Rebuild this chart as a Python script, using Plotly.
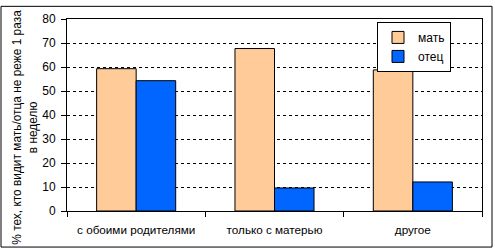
import plotly.graph_objects as go

categories = ["с обоими родителями", "только с матерью", "другое"]
mother = [59.3, 67.7, 58.8]
father = [54.3, 9.6, 12.1]
y_ticks = [0, 10, 20, 30, 40, 50, 60, 70, 80]

W, H = 495, 250
L, R, T, B = 67, 13, 14, 39
pw, ph = W - L - R, H - T - B

FAM = "Arial, Liberation Sans, sans-serif"
font = dict(family=FAM, size=12, color="black")

fig = go.Figure()
fig.add_trace(go.Bar(x=categories, y=mother, name="мать",
                     marker=dict(color="#FFCC99", line=dict(color="black", width=1))))
fig.add_trace(go.Bar(x=categories, y=father, name="отец",
                     marker=dict(color="#0066FF", line=dict(color="black", width=1))))

fig.update_layout(
    width=W, height=H,
    margin=dict(l=L, r=R, t=T, b=B, pad=0),
    paper_bgcolor="white", plot_bgcolor="white",
    font=font,
    barmode="group", bargap=1.5 / 3.5, bargroupgap=0,
    legend=dict(x=(377 - L) / pw, y=(211 - 17) / ph, xanchor="left", yanchor="top",
                bordercolor="black", borderwidth=1, bgcolor="white",
                font=dict(family=FAM, size=12),
                itemwidth=30, tracegroupgap=0),
    xaxis=dict(showline=True, linecolor="black", linewidth=1, mirror=True,
               ticks="outside", tickson="boundaries", ticklen=5, tickcolor="black",
               showgrid=False, tickfont=dict(size=11.7), ticklabelstandoff=8),
    yaxis=dict(range=[0, 80], tickvals=y_ticks, showline=True, linecolor="black",
               linewidth=1, mirror=True, ticks="outside", ticklen=5, tickcolor="black",
               showgrid=True, gridcolor="black", griddash="3px,3px", gridwidth=1,
               zeroline=False, tickfont=dict(size=12), ticklabelstandoff=3),
    annotations=[dict(text="% тех, кто видит мать/отца не реже 1 раза<br>в неделю",
                      xref="paper", yref="paper", x=(24.5 - L) / pw, y=(211 - 125) / ph,
                      xanchor="center", yanchor="middle", textangle=-90, showarrow=False,
                      font=dict(family=FAM, size=11.9), align="center")],
    shapes=[dict(type="rect", xref="paper", yref="paper",
                 x0=(1 - L) / pw, x1=(492 - L) / pw,
                 y0=(211 - 248) / ph, y1=(211 - 1) / ph,
                 line=dict(color="black", width=1), fillcolor="rgba(0,0,0,0)")],
)

fig.write_html("out.html")
